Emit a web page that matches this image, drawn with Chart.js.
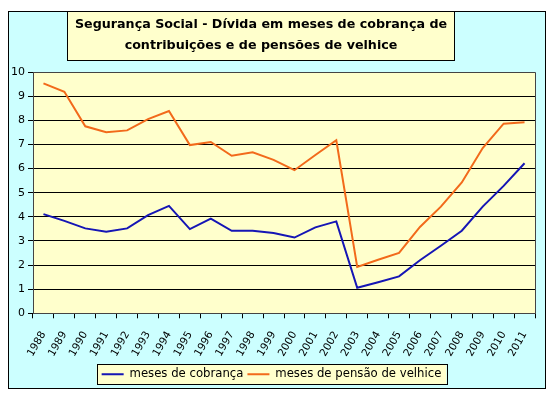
<!DOCTYPE html>
<html>
<head>
<meta charset="utf-8">
<script src="https://cdn.jsdelivr.net/npm/chart.js@4.4.0/dist/chart.umd.min.js"></script>
<style>
  html, body { margin: 0; padding: 0; background: #fff; }
  #wrap { width: 553px; height: 397px; }
</style>
</head>
<body>
<div id="wrap"><canvas id="chart" width="553" height="397"></canvas></div>
<script>
const years = ["1988","1989","1990","1991","1992","1993","1994","1995","1996","1997","1998","1999",
  "2000","2001","2002","2003","2004","2005","2006","2007","2008","2009","2010","2011"];
const cobranca = [4.11, 3.83, 3.52, 3.38, 3.52, 4.07, 4.45, 3.49, 3.92, 3.42, 3.42, 3.33,
  3.14, 3.56, 3.81, 1.06, 1.29, 1.53, 2.2, 2.8, 3.42, 4.42, 5.28, 6.22];
const pensao = [9.53, 9.18, 7.75, 7.5, 7.58, 8.05, 8.38, 6.97, 7.1, 6.53, 6.67, 6.36,
  5.93, 6.56, 7.17, 1.92, 2.22, 2.5, 3.58, 4.42, 5.42, 6.85, 7.86, 7.92];
const yTicks = [0, 1, 2, 3, 4, 5, 6, 7, 8, 9, 10];
const titleLines = ['Segurança Social - Dívida em meses de cobrança de', 'contribuições e de pensões de velhice'];

const FONT = "'DejaVu Sans', sans-serif";

// background, outer frame, title box, legend box, plot area
const frame = {
  id: 'frame',
  beforeDraw(chart) {
    const ctx = chart.ctx;
    const a = chart.chartArea;
    ctx.save();
    ctx.fillStyle = '#fff';
    ctx.fillRect(0, 0, chart.width, chart.height);
    ctx.fillStyle = '#CCFFFF';
    ctx.fillRect(8, 11, 537, 377);
    ctx.strokeStyle = '#000';
    ctx.lineWidth = 1;
    ctx.strokeRect(8.5, 11.5, 537, 377);

    // title box + text
    ctx.fillStyle = '#FFFFCC';
    ctx.fillRect(67, 11, 387, 49);
    ctx.strokeRect(67.5, 11.5, 387, 49);
    ctx.fillStyle = '#000';
    ctx.font = 'bold 12.7px ' + FONT;
    ctx.textAlign = 'center';
    ctx.textBaseline = 'middle';
    titleLines.forEach((t, i) => ctx.fillText(t, 261, 25 + i * 21));

    // legend box
    const boxes = chart.legend.legendHitBoxes;
    if (boxes && boxes.length) {
      let l = Infinity, r = -Infinity, t = Infinity, b = -Infinity;
      boxes.forEach(h => {
        l = Math.min(l, h.left); r = Math.max(r, h.left + h.width);
        t = Math.min(t, h.top); b = Math.max(b, h.top + h.height);
      });
      ctx.fillStyle = '#FFFFCC';
      ctx.fillRect(l - 5, t - 4, r - l + 10, b - t + 8);
      ctx.strokeRect(Math.round(l - 5) + 0.5, Math.round(t - 4) + 0.5, Math.round(r - l + 10), Math.round(b - t + 8));
    }

    ctx.fillStyle = '#FFFFCC';
    ctx.fillRect(a.left, a.top, a.right - a.left, a.bottom - a.top);
    ctx.restore();
  },
  afterDatasetsDraw(chart) {
    const ctx = chart.ctx;
    const a = chart.chartArea;
    ctx.save();
    ctx.strokeStyle = '#444';
    ctx.lineWidth = 1;
    ctx.beginPath();
    ctx.moveTo(a.left, a.top + 0.5);
    ctx.lineTo(a.right + 0.5, a.top + 0.5);
    ctx.lineTo(a.right + 0.5, a.bottom);
    ctx.stroke();
    ctx.restore();
  }
};

new Chart(document.getElementById('chart'), {
  type: 'line',
  data: {
    labels: years,
    datasets: [
      { label: 'meses de cobrança', data: cobranca, borderColor: '#1515B5', backgroundColor: '#1515B5',
        borderWidth: 2, pointRadius: 0, tension: 0 },
      { label: 'meses de pensão de velhice', data: pensao, borderColor: '#F26A1B', backgroundColor: '#F26A1B',
        borderWidth: 2, pointRadius: 0, tension: 0 }
    ]
  },
  options: {
    responsive: false,
    animation: false,
    layout: { padding: { left: 8, right: 18, top: 72, bottom: 7 } },
    plugins: {
      title: { display: false },
      legend: {
        position: 'bottom',
        labels: {
          usePointStyle: true,
          pointStyle: 'line',
          pointStyleWidth: 22,
          color: '#000',
          font: { family: FONT, size: 11.7 },
          padding: 4,
          boxHeight: 12
        }
      },
      tooltip: { enabled: false }
    },
    scales: {
      x: {
        offset: true,
        grid: { display: true, drawOnChartArea: false, drawTicks: true, tickLength: 5, color: '#000', offset: true },
        border: { display: true, color: '#444' },
        ticks: { color: '#000', font: { family: FONT, size: 10.5 }, minRotation: 60, maxRotation: 60, autoSkip: false, padding: 11 },
        afterFit(s) { s.height = 51; }
      },
      y: {
        min: 0,
        max: 10,
        afterBuildTicks(s) { s.ticks = yTicks.map(v => ({ value: v })); },
        grid: { color: '#000', lineWidth: 1, drawTicks: true, tickLength: 5 },
        border: { display: true, color: '#444' },
        ticks: { color: '#000', font: { family: FONT, size: 11 }, padding: 3 },
        afterFit(s) { s.width = 25; }
      }
    }
  },
  plugins: [frame]
});
</script>
</body>
</html>
